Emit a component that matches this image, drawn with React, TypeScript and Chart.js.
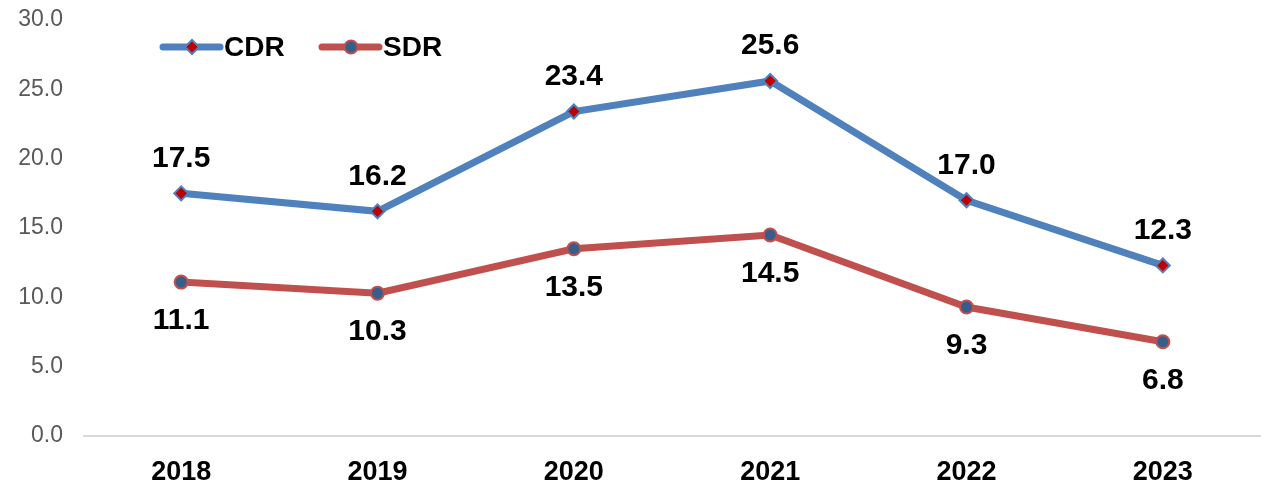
import React, { useEffect, useRef } from "react";
import { Chart, registerables } from "chart.js";

Chart.register(...registerables);

const categories = ["2018", "2019", "2020", "2021", "2022", "2023"];
const cdrValues = [17.5, 16.2, 23.4, 25.6, 17.0, 12.3];
const sdrValues = [11.1, 10.3, 13.5, 14.5, 9.3, 6.8];
const seriesNames = ["CDR", "SDR"];

const FONT = "Arial, 'Liberation Sans', sans-serif";
const CDR_LINE = "#4F81BD";
const SDR_LINE = "#C0504D";
const CDR_MARK = "#C00000";
const SDR_MARK = "#385D8A";

const dataLabelPlugin = {
  id: "dataLabels",
  afterDatasetsDraw(chart: any) {
    const ctx = chart.ctx;
    ctx.save();
    ctx.font = `bold 30px ${FONT}`;
    ctx.fillStyle = "#000000";
    ctx.textAlign = "center";
    ctx.textBaseline = "middle";
    chart.data.datasets.forEach((ds: any, i: number) => {
      const meta = chart.getDatasetMeta(i);
      const above = i === 0;
      meta.data.forEach((pt: any, j: number) => {
        const v = ds.data[j] as number;
        const y = above ? pt.y - 35 : pt.y + 39;
        ctx.fillText(v.toFixed(1), pt.x, y);
      });
    });
    ctx.restore();
  },
};

const legendPlugin = {
  id: "insideLegend",
  afterDraw(chart: any) {
    const ctx = chart.ctx;
    const area = chart.chartArea;
    const y = area.top + 27;
    const items = [
      { x: area.left + 80, ds: chart.data.datasets[0] },
      { x: area.left + 239, ds: chart.data.datasets[1] },
    ];
    ctx.save();
    items.forEach((it) => {
      const ds = it.ds;
      ctx.strokeStyle = ds.borderColor;
      ctx.lineWidth = 7;
      ctx.lineCap = "round";
      ctx.beginPath();
      ctx.moveTo(it.x, y);
      ctx.lineTo(it.x + 57, y);
      ctx.stroke();
      const cx = it.x + 29;
      ctx.lineWidth = 2;
      ctx.fillStyle = ds.pointBackgroundColor;
      ctx.strokeStyle = ds.pointBorderColor;
      ctx.beginPath();
      if (ds.pointStyle === "rectRot") {
        const r = 7;
        ctx.moveTo(cx, y - r);
        ctx.lineTo(cx + r, y);
        ctx.lineTo(cx, y + r);
        ctx.lineTo(cx - r, y);
        ctx.closePath();
      } else {
        ctx.arc(cx, y, 6.5, 0, Math.PI * 2);
      }
      ctx.fill();
      ctx.stroke();
      ctx.font = `bold 28px ${FONT}`;
      ctx.fillStyle = "#000000";
      ctx.textAlign = "left";
      ctx.textBaseline = "middle";
      ctx.fillText(ds.label, it.x + 61, y + 1);
    });
    ctx.restore();
  },
};

export default function App() {
  const ref = useRef<HTMLCanvasElement | null>(null);

  useEffect(() => {
    document.body.style.margin = "0";
    if (!ref.current) return;
    const chart = new Chart(ref.current, {
      type: "line",
      data: {
        labels: categories,
        datasets: [
          {
            label: seriesNames[0],
            data: cdrValues,
            borderColor: CDR_LINE,
            borderWidth: 7,
            pointStyle: "rectRot",
            pointRadius: 7,
            pointBorderWidth: 2,
            pointBackgroundColor: CDR_MARK,
            pointBorderColor: CDR_LINE,
            tension: 0,
          },
          {
            label: seriesNames[1],
            data: sdrValues,
            borderColor: SDR_LINE,
            borderWidth: 7,
            pointStyle: "circle",
            pointRadius: 6.5,
            pointBorderWidth: 2,
            pointBackgroundColor: SDR_MARK,
            pointBorderColor: SDR_LINE,
            tension: 0,
          },
        ],
      },
      options: {
        animation: false,
        responsive: false,
        maintainAspectRatio: false,
        layout: { autoPadding: false, padding: { top: 20, right: 0, left: 0, bottom: 0 } },
        plugins: {
          legend: { display: false },
          tooltip: { enabled: false },
        },
        scales: {
          x: {
            offset: true,
            grid: { display: false },
            border: { display: false },
            ticks: {
              color: "#000000",
              font: { family: FONT, size: 27, weight: "bold" },
              padding: 12,
              maxRotation: 0,
            },
            afterFit: (scale: any) => {
              scale.height = 46;
              scale.paddingLeft = 0;
              scale.paddingRight = 0;
            },
          },
          y: {
            min: 0,
            max: 30,
            border: { display: false },
            grid: {
              drawTicks: false,
              lineWidth: 2,
              color: (c: any) => (c.tick && c.tick.value === 0 ? "#D9D9D9" : "rgba(0,0,0,0)"),
            },
            ticks: {
              stepSize: 5,
              color: "#595959",
              font: { family: FONT, size: 23 },
              padding: 20,
              callback: (v: any) => Number(v).toFixed(1),
            },
            afterFit: (scale: any) => {
              scale.width = 83;
              scale.paddingTop = 0;
              scale.paddingBottom = 0;
            },
          },
        },
      },
      plugins: [dataLabelPlugin, legendPlugin],
    });
    return () => chart.destroy();
  }, []);

  return (
    <div style={{ width: 1261, height: 482 }}>
      <canvas ref={ref} width={1261} height={482} style={{ display: "block" }} />
    </div>
  );
}
